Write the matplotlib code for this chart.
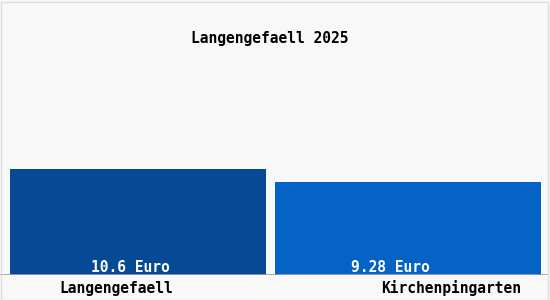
import matplotlib
matplotlib.use("Agg")
import matplotlib.pyplot as plt
from matplotlib.patches import Rectangle

title = "Langengefaell 2025"
categories = ["Langengefaell", "Kirchenpingarten"]
values = [10.6, 9.28]
value_labels = ["10.6 Euro", "9.28 Euro"]
colors = ["#064a96", "#0563c6"]

W, H = 550, 300
fig = plt.figure(figsize=(5.5, 3.0), dpi=100)
fig.patch.set_facecolor("#f8f8f8")
# figure border
fig.patches.append(Rectangle((0.5 / W, 0.5 / H), (W - 2.5) / W, (H - 2.5) / H,
                             transform=fig.transFigure, fill=False,
                             edgecolor="#dedede", linewidth=1.0))

# axes: bottom at y=275 px, top at y=0 px; full width
ax = fig.add_axes([0, (H - 275) / H, 1, 275 / H])
ax.set_facecolor("none")
ax.set_ylim(0, 27.5)
ax.set_xlim(-138 / 270, 1 + (550 - 408) / 270)
x = list(range(len(categories)))
ax.bar(x, values, width=[256 / 270, 266 / 270], color=colors, align="center")
for s in ax.spines.values():
    s.set_visible(False)
ax.set_xticks([])
ax.set_yticks([])
ax.axhline(0, color="#a0a0a0", linewidth=1.2, xmin=0, xmax=0.995)

font = "DejaVu Sans Mono"
label_dx = [-0.03, -0.067]
for i, (v, lab) in enumerate(zip(values, value_labels)):
    ax.text(x[i] + label_dx[i], 0.7, lab, ha="center", va="center",
            color="white", fontsize=10.5, family=font, weight="bold")

cat_px = [116, 451]
for cx, cat in zip(cat_px, categories):
    fig.text(cx / W, 1 - 288 / H, cat, ha="center", va="center",
             color="black", fontsize=10.5, family=font, weight="bold")

fig.text(270 / W, 1 - 38 / H, title, ha="center", va="center",
         color="black", fontsize=10.5, family=font, weight="bold")

fig.savefig("out.png", dpi=100, facecolor=fig.get_facecolor())
